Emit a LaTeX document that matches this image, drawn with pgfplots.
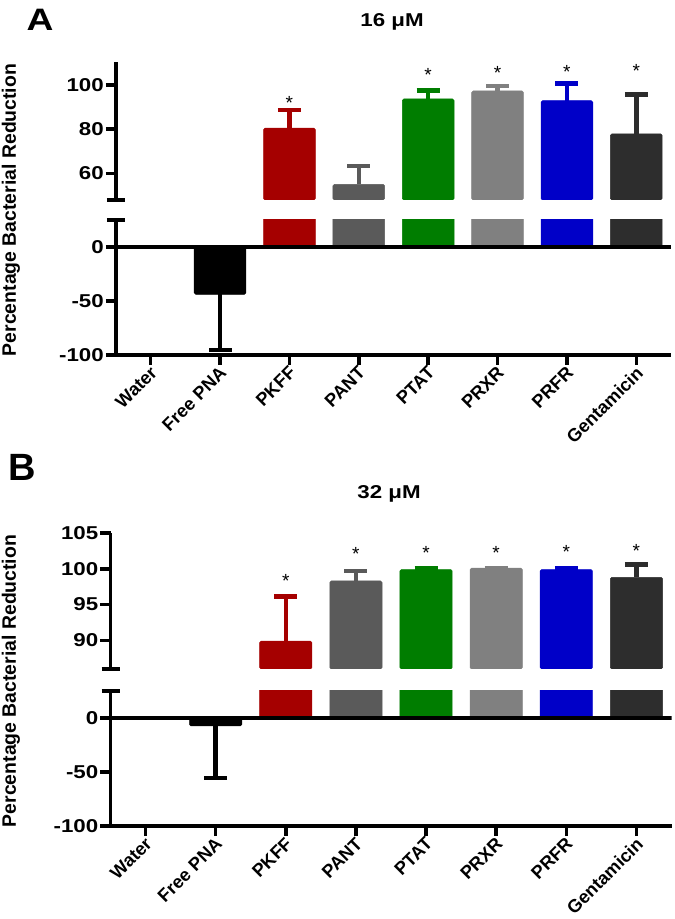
\documentclass[border=0pt]{standalone}
\usepackage{fontspec}
\setmainfont{Liberation Sans}
\newfontfamily\widefont{Liberation Sans}[FakeStretch=1.2]
\usepackage{pgfplots}
\pgfplotsset{compat=1.18}

\definecolor{cPKFF}{RGB}{165,0,0}
\definecolor{cPANT}{RGB}{90,90,90}
\definecolor{cPTAT}{RGB}{0,125,0}
\definecolor{cPRXR}{RGB}{128,128,128}
\definecolor{cPRFR}{RGB}{0,0,200}
\definecolor{cGent}{RGB}{45,45,45}

\pgfplotsset{
  bar/.style={ybar, bar shift=0pt, bar width=0.745, fill=#1, draw=#1,
    line width=0.5pt, rounded corners=1.5pt,
    error bars/y dir=plus, error bars/y explicit,
    error bars/error bar style={line width=4.5pt, draw=#1, rounded corners=0pt},
    error bars/error mark options={rotate=90, mark size=11.5pt, line width=4.5pt, draw=#1}},
  star/.style={draw=none, mark=none, nodes near coords={*},
    nodes near coords style={anchor=center, inner sep=0pt, yshift=-4pt,
      font=\fontsize{19}{20}\selectfont, text=black}},
  seg/.style={scale only axis, xmin=-0.5, xmax=7.5,
    axis y line*=left, tick align=outside, major tick length=10pt,
    axis line style={line width=3.5pt}, tick style={line width=3.5pt, black},
    /pgf/number format/assume math mode=true,
    yticklabel style={font=\widefont\bfseries\fontsize{18.6}{20}\selectfont, inner sep=2pt},
    clip marker paths=true},
  upper/.style={seg, axis x line=none,
    after end axis/.code={\draw[line width=3.5pt] ([xshift=-9pt]rel axis cs:0,0) -- ([xshift=9pt]rel axis cs:0,0);}},
  lower/.style={seg, axis x line*=bottom, ymin=-100, ymax=25,
    ytick={-100,-50,0}, yticklabels={-100,-50,0},
    xtick={0,...,7},
    xticklabels={Water, Free PNA, PKFF, PANT, PTAT, PRXR, PRFR, Gentamicin},
    xticklabel style={rotate=45, anchor=north east, inner sep=1pt, yshift=2pt,
      font=\bfseries\fontsize{18.2}{20}\selectfont},
    after end axis/.code={\draw[line width=3.5pt] ([xshift=-9pt]rel axis cs:0,1) -- ([xshift=9pt]rel axis cs:0,1);}},
}

% panel A: 16 uM (Free PNA is negative, drawn in the lower segment only)
\newcommand\barsA{%
  \addplot[bar=cPKFF] coordinates {(2,80.5) +- (0,8.2)};
  \addplot[bar=cPANT] coordinates {(3,55.1) +- (0,8.3)};
  \addplot[bar=cPTAT] coordinates {(4,93.7) +- (0,3.7)};
  \addplot[bar=cPRXR] coordinates {(5,97.3) +- (0,2.2)};
  \addplot[bar=cPRFR] coordinates {(6,92.9) +- (0,7.7)};
  \addplot[bar=cGent] coordinates {(7,77.9) +- (0,17.7)};
}
% panel B: 32 uM
\newcommand\barsB{%
  \addplot[bar=cPKFF] coordinates {(2,89.9) +- (0,6.2)};
  \addplot[bar=cPANT] coordinates {(3,98.3) +- (0,1.4)};
  \addplot[bar=cPTAT] coordinates {(4,99.9) +- (0,0.2)};
  \addplot[bar=cPRXR] coordinates {(5,100.1) +- (0,0)};
  \addplot[bar=cPRFR] coordinates {(6,99.9) +- (0,0.2)};
  \addplot[bar=cGent] coordinates {(7,98.8) +- (0,1.8)};
}

\begin{document}
\begin{tikzpicture}
\path[use as bounding box] (0pt,0pt) rectangle (675pt,919pt);

% ---- A ----
\begin{scope}[shift={(116pt,719pt)}]
\begin{axis}[upper, anchor=south west, width=555pt, height=138pt,
  ymin=48, ymax=110.4, ytick={60,80,100}]
  \barsA
  \addplot[star] coordinates {(2,93.5) (4,106.5) (5,107.1) (6,107.5) (7,108.0)};
\end{axis}
\end{scope}
\begin{scope}[shift={(116pt,564pt)}]
\begin{axis}[lower, anchor=south west, width=555pt, height=135pt]
  \addplot[bar=black, error bars/y dir=minus] coordinates {(1,-43.8) +- (0,51.6)};
  \barsA
  \draw[line width=3.5pt] (axis cs:-0.5,0) -- (axis cs:7.5,0);
\end{axis}
\end{scope}

% ---- B ----
\begin{scope}[shift={(110.5pt,250pt)}]
\begin{axis}[upper, anchor=south west, width=561pt, height=136pt,
  ymin=86, ymax=105, ytick={90,95,100,105}]
  \barsB
  \addplot[star] coordinates {(2,98.9) (3,102.6) (4,102.8) (5,102.7) (6,102.9) (7,103.1)};
\end{axis}
\end{scope}
\begin{scope}[shift={(110.5pt,93pt)}]
\begin{axis}[lower, anchor=south west, width=561pt, height=135pt]
  \addplot[bar=black, error bars/y dir=minus] coordinates {(1,-7.4) +- (0,48.2)};
  \barsB
  \draw[line width=3.5pt] (axis cs:-0.5,0) -- (axis cs:7.5,0);
\end{axis}
\end{scope}

\node[font=\widefont\bfseries\fontsize{31}{32}\selectfont] at (40pt,899.5pt) {A};
\node[font=\bfseries\fontsize{38}{40}\selectfont] at (22.5pt,452pt) {B};
\node[font=\widefont\bfseries\fontsize{18.6}{20}\selectfont] at (392pt,897pt) {16 μM};
\node[font=\widefont\bfseries\fontsize{18.6}{20}\selectfont] at (389pt,425pt) {32 μM};
\node[rotate=90, font=\bfseries\fontsize{19.4}{20}\selectfont] at (11pt,709pt) {Percentage Bacterial Reduction};
\node[rotate=90, font=\bfseries\fontsize{19.4}{20}\selectfont] at (11pt,238pt) {Percentage Bacterial Reduction};
\end{tikzpicture}
\end{document}
